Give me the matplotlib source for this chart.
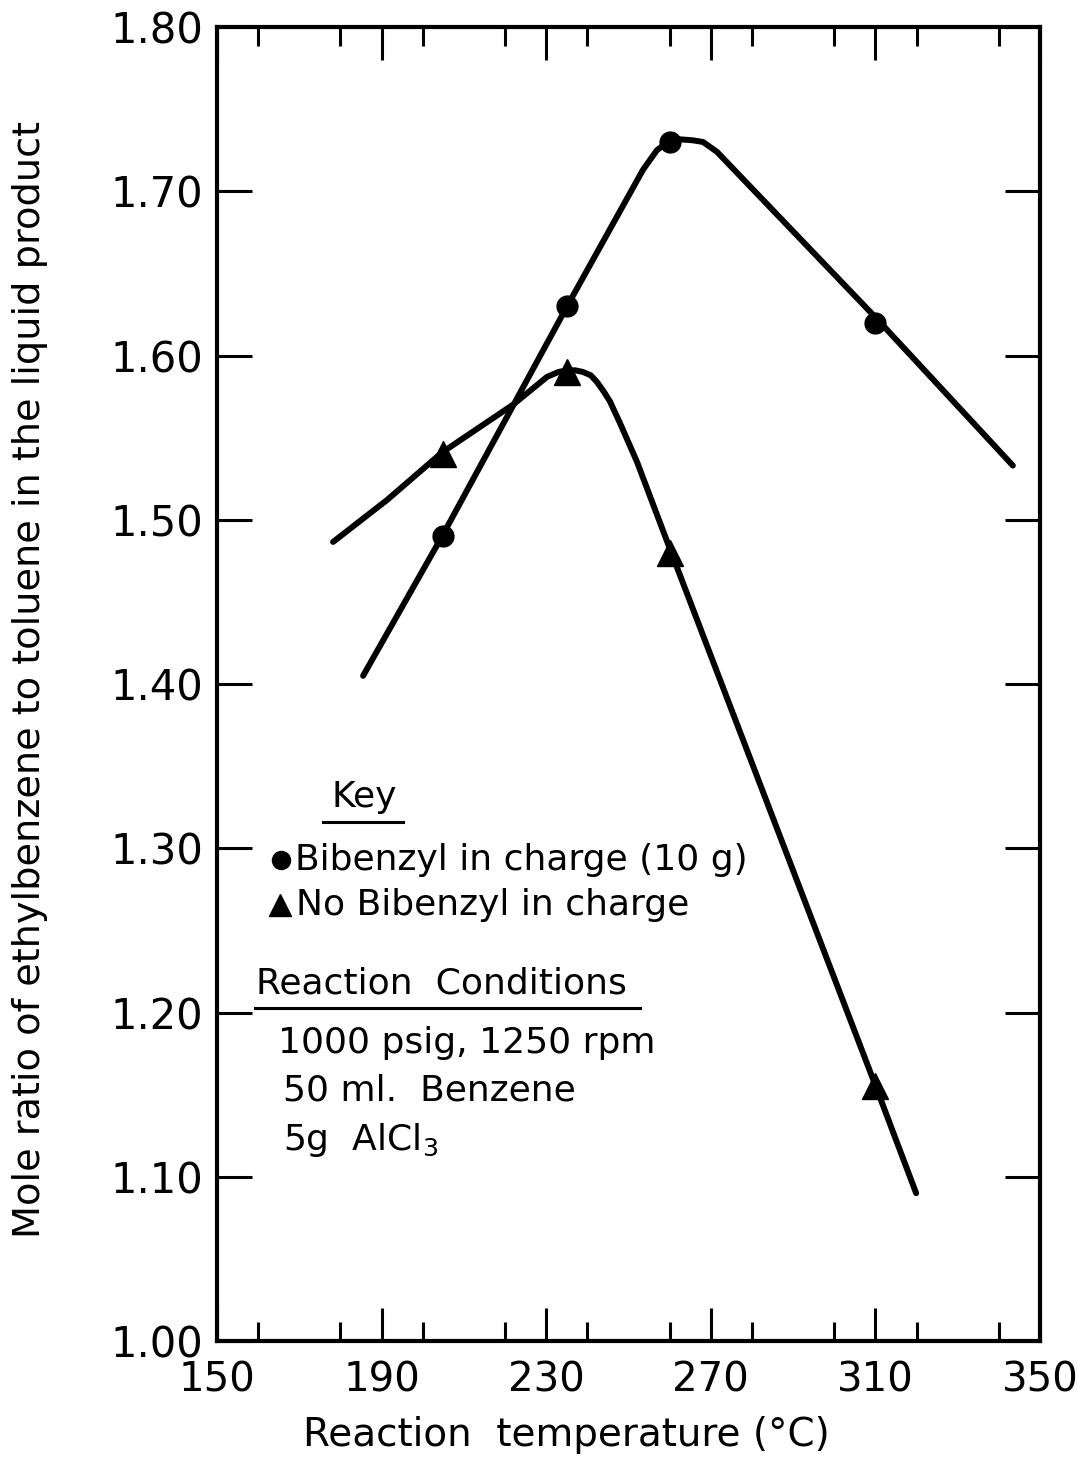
"""Mole ratio of ethylbenzene to toluene vs reaction temperature."""

import matplotlib
matplotlib.use('Agg')
import matplotlib.pyplot as plt
from matplotlib.ticker import MultipleLocator

# measured points
temp_pts = [205, 235, 260, 310]
bib_pts = [1.49, 1.63, 1.73, 1.62]
nobib_pts = [1.54, 1.59, 1.48, 1.155]

# hand drawn curves
bib_curve_t = [185.5, 204.7, 235.3, 253.5, 256.9, 260.6, 265.7, 268.1, 271.5, 310.1, 343.4]
bib_curve_r = [1.405, 1.490, 1.631, 1.713, 1.725, 1.732, 1.731, 1.730, 1.724, 1.623, 1.533]
nobib_curve_t = [178.2, 191.3, 204.7, 221.9, 230.2, 233.0, 235.1, 237.0, 238.9, 240.8,
                 242.3, 244.0, 245.5, 247.9, 252.1, 260.1, 310.4, 319.9]
nobib_curve_r = [1.4865, 1.512, 1.541, 1.570, 1.587, 1.590, 1.591, 1.591, 1.590, 1.588,
                 1.584, 1.578, 1.572, 1.559, 1.535, 1.482, 1.153, 1.090]

x_ticks = [150, 190, 230, 270, 310, 350]
y_ticks = [1.00, 1.10, 1.20, 1.30, 1.40, 1.50, 1.60, 1.70, 1.80]
y_labels = ['1.00', '1.10', '1.20', '1.30', '1.40', '1.50', '1.60', '1.70', '1.80']

plt.rcParams['font.family'] = 'DejaVu Sans'

fig = plt.figure(figsize=(10.83, 14.6), dpi=100)
ax = fig.add_axes([0.2004, 0.0815, 0.7599, 0.9000])

lw = 4.3
ax.plot(bib_curve_t, bib_curve_r, color='black', lw=lw, solid_capstyle='round',
        solid_joinstyle='round')
ax.plot(nobib_curve_t, nobib_curve_r, color='black', lw=lw, solid_capstyle='round',
        solid_joinstyle='round')
ax.plot(temp_pts, bib_pts, 'o', color='black', ms=15, zorder=5)
ax.plot(temp_pts, nobib_pts, '^', color='black', ms=19, zorder=5)

ax.set_xlim(150, 350)
ax.set_ylim(1.00, 1.80)
ax.set_xticks(x_ticks)
ax.xaxis.set_minor_locator(MultipleLocator(20))
ax.set_yticks(y_ticks)
ax.set_yticklabels(y_labels)

for sp in ax.spines.values():
  sp.set_linewidth(3)

ax.tick_params(axis='x', which='major', direction='in', top=True, bottom=True,
               length=24, width=2.2, labelsize=29, pad=14)
ax.tick_params(axis='x', which='minor', direction='in', top=True, bottom=True,
               length=14, width=2.2)
ax.tick_params(axis='y', which='major', direction='in', left=True, right=True,
               length=25, width=2.2, labelsize=30, pad=10)

fig.text(566 / 1083, 1 - 1435 / 1460, 'Reaction  temperature (°C)',
         ha='center', va='center', fontsize=28)
fig.text(30 / 1083, 1 - 680 / 1460,
         'Mole ratio of ethylbenzene to toluene in the liquid product',
         ha='center', va='center', rotation=90, fontsize=27.5)


def axfrac(px, py):
  return (px - 217) / 823, 1 - (py - 27) / 1314


txt = dict(transform=ax.transAxes, fontsize=26, va='center', ha='left')

x, y = axfrac(364, 797)
ax.text(x, y, 'Key', **dict(txt, ha='center'))
x0, y0 = axfrac(323, 822)
x1, _ = axfrac(403, 822)
ax.plot([x0, x1], [y0, y0], color='black', lw=2.2, transform=ax.transAxes)

x, y = axfrac(281, 860)
ax.plot([x], [y], 'o', color='black', ms=13, transform=ax.transAxes)
x, y = axfrac(295, 860)
ax.text(x, y, 'Bibenzyl in charge (10 g)', **txt)

x, y = axfrac(280, 905)
ax.plot([x], [y], '^', color='black', ms=16, transform=ax.transAxes)
x, y = axfrac(296, 905)
ax.text(x, y, 'No Bibenzyl in charge', **txt)

x, y = axfrac(256, 983)
ax.text(x, y, 'Reaction  Conditions', **txt)
x0, y0 = axfrac(255, 1008)
x1, _ = axfrac(640, 1008)
ax.plot([x0, x1], [y0, y0], color='black', lw=2.2, transform=ax.transAxes)

x, y = axfrac(278, 1043)
ax.text(x, y, '1000 psig, 1250 rpm', **txt)
x, y = axfrac(283, 1090)
ax.text(x, y, '50 ml.  Benzene', **txt)
x, y = axfrac(283, 1140)
ax.text(x, y, r'5g  AlCl$_3$', **txt)

fig.savefig('out.png', dpi=100)
